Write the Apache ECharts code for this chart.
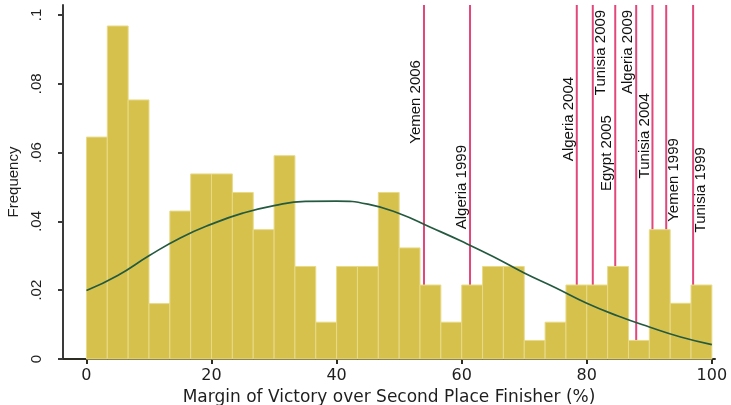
<!DOCTYPE html>
<html>
<head>
<meta charset="utf-8">
<title>Margin of Victory over Second Place Finisher</title>
<script src="https://cdn.jsdelivr.net/npm/echarts@6/dist/echarts.min.js"></script>
<style>
  html, body { margin: 0; padding: 0; background: #ffffff; }
  #chart { width: 731px; height: 405px; }
</style>
</head>
<body>
<div id="chart"></div>
<script>
// Histogram of victory margins: 30 bins of equal width between 0 and 100
const binWidth = 100 / 30;
const binFrequency = [
  0.0645, 0.0968, 0.0753, 0.0161, 0.0430, 0.0538, 0.0538, 0.0484, 0.0376, 0.0591,
  0.0269, 0.0107, 0.0269, 0.0269, 0.0484, 0.0323, 0.0215, 0.0107, 0.0215, 0.0269,
  0.0269, 0.0054, 0.0107, 0.0215, 0.0215, 0.0269, 0.0054, 0.0376, 0.0162, 0.0215
];

// Overlaid normal density curve (scaled to bin frequency)
const curveX = [0, 5, 10, 15, 20, 25, 30, 35, 40, 45, 50, 55, 60, 65, 70, 75, 80, 85, 90, 95, 100];
const curveY = [
  0.0199, 0.0243, 0.0300, 0.0352, 0.0392, 0.0424, 0.0446, 0.0458, 0.0459, 0.0450,
  0.0423, 0.0383, 0.0342, 0.0298, 0.0250, 0.0207, 0.0162, 0.0125, 0.0093, 0.0064, 0.0042
];

// Individual elections marked with vertical reference lines
const eventNames = [
  'Yemen 2006', 'Algeria 1999', 'Algeria 2004', 'Tunisia 2009', 'Egypt 2005',
  'Algeria 2009', 'Tunisia 2004', 'Yemen 1999', 'Tunisia 1999'
];
const eventMargin = [53.97, 61.33, 78.40, 80.96, 84.55, 87.90, 90.50, 92.70, 97.00];

// Label layout: side of the line (-1 left, +1 right) and where the text ends (frequency units)
const eventLabelSide = [-1, -1, -1, 1, -1, -1, -1, 1, 1];
const eventLabelTop = [0.0869, 0.0622, 0.0820, 0.1015, 0.0709, 0.1015, 0.0773, 0.0642, 0.0616];

// Axis ticks
const xTicks = [0, 20, 40, 60, 80, 100];
const yTicks = [0, 0.02, 0.04, 0.06, 0.08, 0.1];

const Y_MAX = 0.1029;
const X_MIN = -3.75;
const X_MAX = 100.5;

const histData = binFrequency.map((f, i) => [i * binWidth, (i + 1) * binWidth, f]);
const curveData = curveX.map((x, i) => [x, curveY[i]]);
const eventData = eventMargin.map((x, i) => [x, eventLabelTop[i], eventLabelSide[i]]);

const chart = echarts.init(document.getElementById('chart'), null, { renderer: 'canvas' });

chart.setOption({
  animation: false,
  backgroundColor: '#ffffff',
  grid: { left: 63, right: 16, top: 5, bottom: 46, containLabel: false, outerBoundsMode: 'none' },
  xAxis: {
    type: 'value',
    min: X_MIN,
    max: X_MAX,
    name: 'Margin of Victory over Second Place Finisher (%)',
    nameLocation: 'middle',
    nameGap: 23,
    nameTextStyle: { fontFamily: 'DejaVu Sans', fontSize: 17, color: '#1e1e1e' },
    axisLine: { show: true, onZero: false, lineStyle: { color: '#2c2c22', width: 2 } },
    axisTick: { show: true, customValues: xTicks, length: 5, lineStyle: { color: '#2c2c22', width: 2 } },
    axisLabel: {
      customValues: xTicks,
      margin: 9,
      fontFamily: 'DejaVu Sans',
      fontSize: 16,
      color: '#1e1e1e'
    },
    splitLine: { show: false }
  },
  yAxis: {
    type: 'value',
    min: 0,
    max: Y_MAX,
    name: 'Frequency',
    nameLocation: 'middle',
    nameGap: 37,
    nameTextStyle: { fontFamily: 'Liberation Sans', fontSize: 15, color: '#1e1e1e' },
    axisLine: { show: true, onZero: false, lineStyle: { color: '#3a3a3a', width: 2 } },
    axisTick: { show: true, customValues: yTicks, length: 5, lineStyle: { color: '#3a3a3a', width: 2 } },
    axisLabel: {
      customValues: yTicks,
      rotate: 90,
      margin: 19,
      fontFamily: 'Liberation Sans',
      fontSize: 15,
      color: '#1e1e1e',
      formatter: v => (v === 0 ? '0' : String(+v.toFixed(2)).replace(/^0\./, '.'))
    },
    splitLine: { show: false }
  },
  series: [
    {
      // Reference lines and their vertical labels, drawn behind the bars
      type: 'custom',
      z: 1,
      clip: false,
      data: eventData,
      renderItem: function (params, api) {
        const x = api.value(0);
        const top = api.value(1);
        const side = api.value(2);
        const base = api.coord([x, 0]);
        const peak = api.coord([x, Y_MAX]);
        const anchor = api.coord([x, top]);
        return {
          type: 'group',
          children: [
            {
              type: 'line',
              shape: { x1: base[0], y1: base[1], x2: peak[0], y2: peak[1] },
              style: { stroke: '#e2477c', lineWidth: 2 }
            },
            {
              type: 'text',
              x: anchor[0] + side * 8,
              y: anchor[1],
              rotation: Math.PI / 2,
              style: {
                text: eventNames[params.dataIndex],
                align: 'right',
                verticalAlign: 'middle',
                font: '15px "Liberation Sans", Arial, sans-serif',
                fill: '#111111'
              }
            }
          ]
        };
      }
    },
    {
      // Histogram bars
      type: 'custom',
      z: 2,
      data: histData,
      renderItem: function (params, api) {
        const p0 = api.coord([api.value(0), api.value(2)]);
        const p1 = api.coord([api.value(1), 0]);
        return {
          type: 'rect',
          shape: { x: p0[0], y: p0[1], width: p1[0] - p0[0], height: p1[1] - p0[1] },
          style: { fill: '#d6c14c', stroke: '#e8da88', lineWidth: 1 }
        };
      }
    },
    {
      // Normal density overlay
      type: 'line',
      z: 3,
      data: curveData,
      smooth: true,
      symbol: 'none',
      lineStyle: { color: '#245a40', width: 1.7 }
    }
  ]
});
</script>
</body>
</html>
